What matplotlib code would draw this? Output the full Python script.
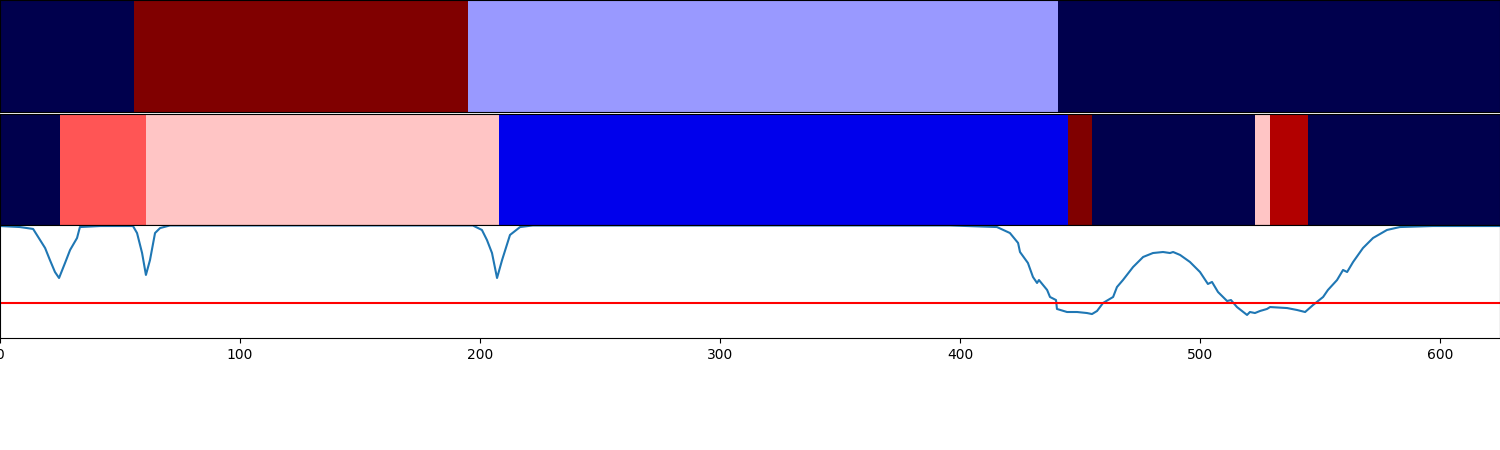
import numpy as np
import matplotlib
matplotlib.use("Agg")
import matplotlib.pyplot as plt

# segment boundaries (frame index) and colour values (0..1 on seismic)
top_edges = [0, 56, 195, 441, 625]
top_values = [0.0, 1.0, 0.4, 0.0]

mid_edges = [0, 25, 61, 208, 445, 455, 523, 529, 545, 625]
mid_values = [0.0, 0.667, 0.557, 0.225, 1.0, 0.0, 0.557, 0.9, 0.0]

# score curve
score_x = [0, 8.3, 13.8, 16.7, 18.8, 20.8, 22.9, 24.6, 27.1, 29.2, 32.1, 33.3,
           41.7, 55.4, 57.1, 59.2, 60.8, 62.5, 64.6, 66.7, 70.8, 197,
           200.8, 202.9, 205, 207.1, 209.2, 212.5, 216.7, 222, 395.8,
           415.4, 420.8, 424.2, 425, 428.3, 430.4, 432.1, 432.9, 436.3, 437.5,
           440, 440.4, 444.6, 448.8, 452.9, 455, 457.1, 459.6, 463.8, 465.4,
           467.9, 472.1, 476.3, 480.4, 484.6, 487.5, 488.8, 491.7, 495.8, 500,
           503.3, 505, 507.5, 511.3, 512.9, 515.4, 519.6, 520.8, 522.9, 525,
           527.9, 529.2, 536.3, 540.4, 543.8, 547.1, 551.3, 553.3, 557.1, 559.6,
           561.3, 563.8, 567.9, 572.1, 577.9, 583.3, 597, 625]
score_y = [0.991, 0.982, 0.965, 0.867, 0.796, 0.690, 0.584, 0.531, 0.664, 0.779, 0.885, 0.982,
           0.991, 0.991, 0.929, 0.752, 0.558, 0.690, 0.929, 0.973, 0.996, 0.996,
           0.956, 0.867, 0.752, 0.531, 0.690, 0.912, 0.982, 0.996, 0.996,
           0.982, 0.929, 0.841, 0.761, 0.664, 0.540, 0.487, 0.513, 0.425, 0.363,
           0.336, 0.257, 0.230, 0.230, 0.221, 0.212, 0.239, 0.310, 0.363, 0.451,
           0.513, 0.628, 0.717, 0.752, 0.761, 0.752, 0.761, 0.735, 0.673, 0.584,
           0.478, 0.496, 0.407, 0.327, 0.336, 0.274, 0.204, 0.230, 0.221, 0.239,
           0.257, 0.274, 0.265, 0.248, 0.230, 0.292, 0.363, 0.425, 0.513, 0.602,
           0.584, 0.673, 0.796, 0.885, 0.956, 0.982, 0.991, 0.991]
threshold = 0.31

fig = plt.figure(figsize=(15, 4.5), dpi=100)
ax1 = fig.add_axes([0, 338 / 450, 1, 112 / 450])
ax2 = fig.add_axes([0, 225 / 450, 1, 111 / 450])
ax3 = fig.add_axes([0, 112 / 450, 1, 113 / 450])

for ax, edges, vals in [(ax1, top_edges, top_values), (ax2, mid_edges, mid_values)]:
    ax.pcolormesh(edges, [0, 1], np.array(vals)[None, :], cmap="seismic", vmin=0, vmax=1)
    ax.set_xlim(0, 625)
    ax.set_ylim(0, 1)
    ax.set_xticks([])
    ax.set_yticks([])

ax3.plot(score_x, score_y, color="tab:blue", linewidth=1.5)
ax3.axhline(threshold, color="red", linewidth=1.5)
ax3.set_xlim(0, 625)
ax3.set_ylim(0, 1)
ax3.set_yticks([])

fig.savefig("out.png", dpi=100)
